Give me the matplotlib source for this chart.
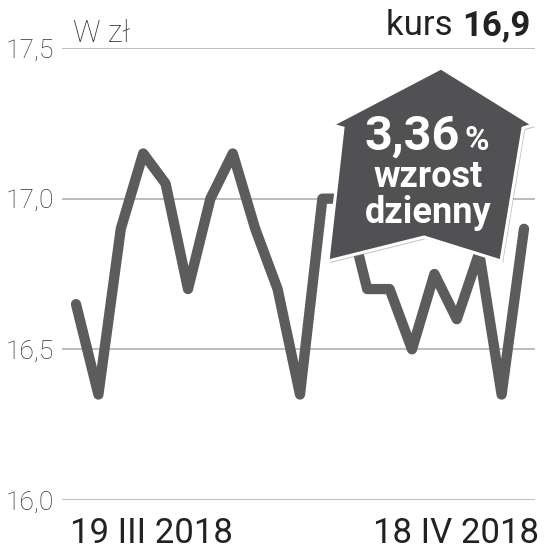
import matplotlib
matplotlib.use("Agg")
import matplotlib.pyplot as plt
import matplotlib.patheffects as pe
from matplotlib.patches import Polygon

# ---- data ----
values = [16.65, 16.35, 16.90, 17.15, 17.05, 16.70, 17.00, 17.15, 16.90, 16.70,
          16.35, 17.00, 17.00, 16.70, 16.70, 16.50, 16.75, 16.60, 16.82, 16.35, 16.90]
ytick_vals = [16.0, 16.5, 17.0, 17.5]
ytick_labels = ["16,0", "16,5", "17,0", "17,5"]
start_label = "19 III 2018"
end_label = "18 IV 2018"
unit_label = "W zł"
kurs_label = "kurs "
kurs_value = "16,9"
change_value = "3,36"
change_text1 = "wzrost"
change_text2 = "dzienny"

W, H = 548, 553
fig = plt.figure(figsize=(W / 100, H / 100), dpi=100)
fig.patch.set_facecolor("white")

def fx(px):
    return px / W

def fy(py):
    return 1 - py / H

left_px, right_px, top_px, bot_px = 62, 535, 48, 500
ax = fig.add_axes([fx(left_px), fy(bot_px), fx(right_px) - fx(left_px), fy(top_px) - fy(bot_px)])
ax.set_facecolor("none")
n = len(values)
step = (right_px - left_px - 14 - 11) / (n - 1)
ax.set_xlim(-14 / step, (n - 1) + 11 / step)
ax.set_ylim(16.0, 17.5)
for s in ax.spines.values():
    s.set_visible(False)
ax.set_xticks([])
ax.set_yticks(ytick_vals)
ax.set_yticklabels(ytick_labels, family=["Roboto", "DejaVu Sans"], fontweight="light",
                   fontsize=19, color="#333333")
ax.tick_params(axis="y", length=0, pad=6)
for v in ytick_vals:
    ax.axhline(v, color="#bdbdbd", lw=1.4, zorder=1)

ax.plot(range(n), values, color="#5c5c5c", lw=7.4, solid_joinstyle="round",
        solid_capstyle="round", zorder=2, clip_on=False)

# bottom date labels
fig.text(fx(70), fy(543), start_label, ha="left", va="baseline", fontsize=25,
         family=["Roboto", "DejaVu Sans"], color="#222222")
fig.text(fx(539), fy(543), end_label, ha="right", va="baseline", fontsize=25,
         family=["Roboto", "DejaVu Sans"], color="#222222")

# unit label
fig.text(fx(73), fy(42), unit_label, ha="left", va="baseline", fontsize=22,
         family=["Roboto", "DejaVu Sans"], fontweight="light", color="#333333")

# kurs label
r = fig.canvas.get_renderer()
t_val = fig.text(fx(530), fy(35), kurs_value, ha="right", va="baseline", fontsize=25,
                 family=["Roboto", "DejaVu Sans"], fontweight="bold", color="#222222")
bb = t_val.get_window_extent(renderer=r)
fig.text(bb.x0 / fig.bbox.width, fy(35), kurs_label, ha="right", va="baseline", fontsize=25,
         family=["Roboto", "DejaVu Sans"], color="#222222")

# badge
badge_px = [(441, 68), (533, 125), (523, 128), (501, 261), (424, 237),
            (328, 261), (343, 128), (332, 125)]
badge = Polygon([(fx(x), fy(y)) for x, y in badge_px], closed=True, transform=fig.transFigure,
                facecolor="#515153", edgecolor="white", lw=2.2, zorder=5,
                path_effects=[pe.SimplePatchShadow(offset=(1.5, -1.5), shadow_rgbFace="#888888", alpha=0.5),
                              pe.Normal()])
fig.patches.append(badge)

fam_b = ["Roboto", "DejaVu Sans"]
t1 = fig.text(fx(365), fy(150), change_value, ha="left", va="baseline", fontsize=35,
              family=fam_b, fontweight="bold", color="white", zorder=6)
bb1 = t1.get_window_extent(renderer=r)
fig.text(bb1.x1 / fig.bbox.width + 0.008, fy(150), "%", ha="left", va="baseline", fontsize=24,
         family=fam_b, fontweight="bold", color="white", zorder=6)
fig.text(fx(428), fy(187), change_text1, ha="center", va="baseline", fontsize=26,
         family=fam_b, fontweight="bold", color="white", zorder=6)
fig.text(fx(428), fy(223), change_text2, ha="center", va="baseline", fontsize=26,
         family=fam_b, fontweight="bold", color="white", zorder=6)

fig.savefig("out.png", dpi=100, facecolor="white")
